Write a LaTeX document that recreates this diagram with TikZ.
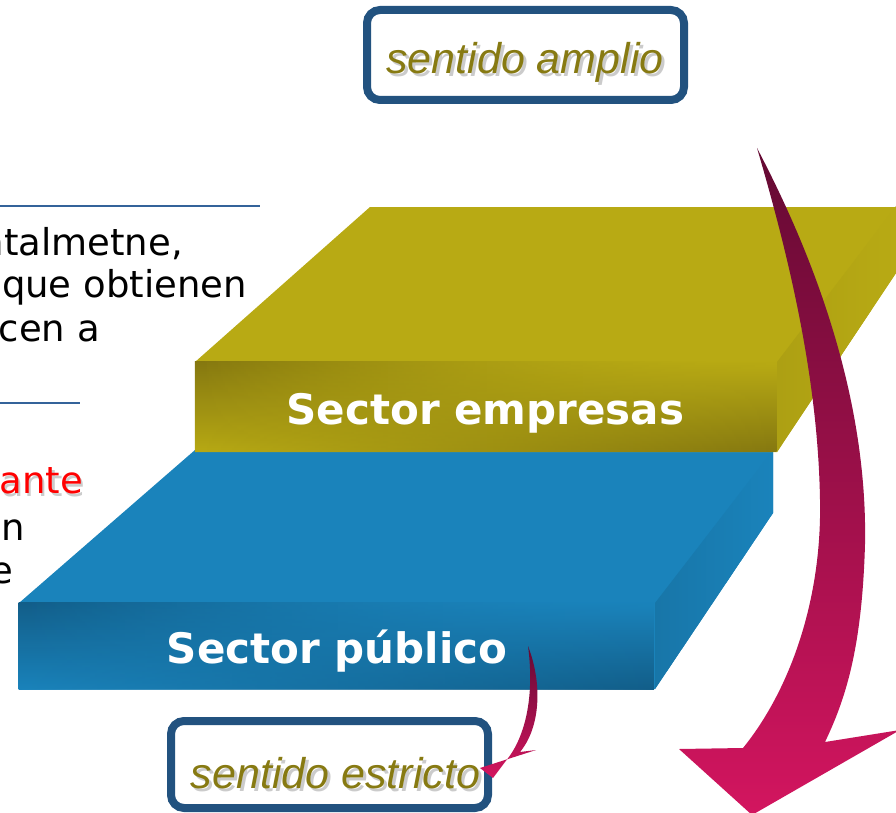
\documentclass[tikz,border=0pt]{standalone}
\usepackage{fontspec}
\setmainfont{DejaVu Sans}
\newfontfamily\arialf{Liberation Sans}
\usetikzlibrary{fadings}
\tikzfading[name=fadeToRight, left color=transparent!0, right color=transparent!100]
\tikzfading[name=fadeToLeft, left color=transparent!100, right color=transparent!0]
\definecolor{olivetop}{HTML}{B8AA14}
\definecolor{olivedark}{HTML}{857810}
\definecolor{olivetext}{HTML}{877A12}
\definecolor{bluetop}{HTML}{1A83BB}
\definecolor{bluedark}{HTML}{125E89}
\definecolor{boxblue}{HTML}{22527F}
\definecolor{rulecol}{HTML}{34639A}
\definecolor{mag}{HTML}{D3155F}
\definecolor{maroonc}{HTML}{640A33}
\begin{document}
\begin{tikzpicture}[x=1pt,y=-1pt,
  lefttext/.style={anchor=base east, inner sep=0pt, font=\fontsize{37}{37}\selectfont},
  slablabel/.style={anchor=base, inner sep=0pt, text=white, font=\fontsize{42}{42}\selectfont\bfseries},
  itlabel/.style={anchor=base, inner sep=0pt, text=olivetext, font=\arialf\itshape\fontsize{43}{43}\selectfont},
  shadowlabel/.style={itlabel, text=black!40, opacity=0.5},
  tagbox/.style={draw=boxblue, line width=8pt, rounded corners=13pt, fill=white, inner sep=0pt},
  rulestyle/.style={draw=rulecol, line width=2pt}]
\useasboundingbox (0,0) rectangle (896,813);
\clip (0,0) rectangle (896,813);

% blue slab
\fill[bluetop] (19,603) -- (195,450) -- (773,450) -- (773,513) -- (655,689) -- (19,689) -- cycle;
\shade[left color=bluetop!90!black, right color=bluetop] (655,603) -- (773,450) -- (773,513) -- (655,689) -- cycle;
\shade[top color=bluedark, bottom color=bluetop, path fading=fadeToRight] (19,603) rectangle (655,689);
\shade[top color=bluetop, bottom color=bluedark, path fading=fadeToLeft] (19,603) rectangle (655,689);

% yellow slab
\fill[olivetop] (195,362) -- (370,207) -- (896,207) -- (896,273) -- (777,452) -- (195,452) -- cycle;
\shade[left color=olivetop!94!black, right color=olivetop] (777,362) -- (896,206) -- (896,273) -- (777,452) -- cycle;
\shade[top color=olivedark, bottom color=olivetop, path fading=fadeToRight] (195,362) rectangle (777,452);
\shade[top color=olivetop, bottom color=olivedark, path fading=fadeToLeft] (195,362) rectangle (777,452);

\node[slablabel] (empresas) at (485.5,424) {Sector empresas};
\node[slablabel] (publico) at (337,663) {Sector público};

% big arrow
\shade[top color=maroonc, bottom color=mag]
  (757,148) .. controls (800,230) and (868,380) .. (865,544)
  .. controls (862,650) and (845,700) .. (825,742)
  -- (900,730) -- (752,815) -- (679,749) -- (743,748)
  .. controls (790,690) and (822,600) .. (820,500)
  .. controls (818,380) and (790,260) .. (757,148) -- cycle;

% left text
\draw[rulestyle] (0,206) -- (260,206);
\node[lefttext] (l1) at (183,255) {ntalmetne,};
\node[lefttext] (l2) at (247,297) {que obtienen};
\node[lefttext] (l3) at (100,341) {cen a};
\draw[rulestyle] (0,403) -- (80,403);
\node[lefttext, text=black!45, opacity=0.45] (l4s) at (85.5,496) {ante};
\node[lefttext, text=red] (l4) at (83,493) {ante};
\node[lefttext] (l5) at (25,540) {en};
\node[lefttext] (l6) at (13,583) {e};

% boxes
\node[tagbox, minimum width=317pt, minimum height=90pt] (amplio) at (525.5,55) {};
\node[shadowlabel] (amplioS) at (528,77) {sentido amplio};
\node[itlabel] (amplioT) at (525,74) {sentido amplio};

\node[tagbox, minimum width=317pt, minimum height=87pt] (estricto) at (329.5,764.5) {};
\node[shadowlabel] (estrictoS) at (338.5,791) {sentido estricto};
\node[itlabel] (estrictoT) at (335.5,788) {sentido estricto};

% small arrow
\shade[top color=maroonc, bottom color=mag]
  (528,646) .. controls (543,685) and (540,728) .. (520,752)
  -- (536,750) -- (480,768) -- (493,778) -- (505,762)
  .. controls (528,735) and (534,690) .. (528,646) -- cycle;
\end{tikzpicture}
\end{document}
